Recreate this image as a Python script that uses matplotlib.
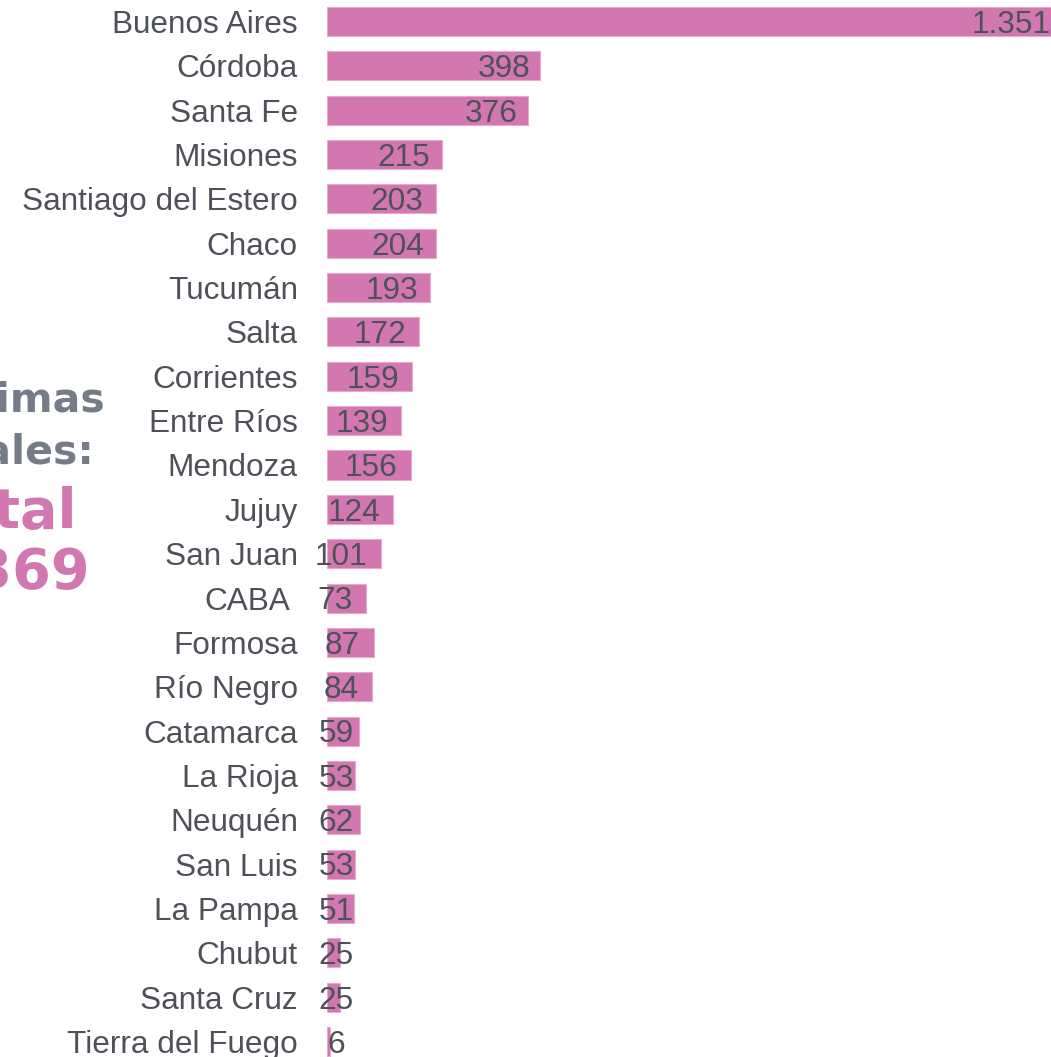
import matplotlib
matplotlib.use('Agg')
import matplotlib.pyplot as plt
from matplotlib.transforms import ScaledTranslation

# Datos (orden de arriba hacia abajo, como en la imagen)
provincias = ['Buenos Aires', 'Córdoba', 'Santa Fe', 'Misiones', 'Santiago del Estero',
              'Chaco', 'Tucumán', 'Salta', 'Corrientes', 'Entre Ríos', 'Mendoza',
              'Jujuy', 'San Juan', 'CABA', 'Formosa', 'Río Negro', 'Catamarca',
              'La Rioja', 'Neuquén', 'San Luis', 'La Pampa', 'Chubut', 'Santa Cruz',
              'Tierra del Fuego']
victimas = [1351, 398, 376, 215, 203, 204, 193, 172, 159, 139, 156, 124, 101,
            73, 87, 84, 59, 53, 62, 53, 51, 25, 25, 6]

ROSA = '#d277af'
GRIS_TXT = '#4e5159'
GRIS_TIT = '#767b88'


def fmt(v):
    return f'{v:,}'.replace(',', '.')


W, H = 1051, 1057
fig = plt.figure(figsize=(W / 100, H / 100), dpi=100)
fig.patch.set_facecolor('white')

x0 = 327
ax = fig.add_axes([x0 / W, 0, 1 - x0 / W, 1])
paso = 44.35
ymin = -21.5 / paso
ax.set_ylim(ymin + H / paso, ymin)
ax.set_xlim(0, 1351)

ys = list(range(len(provincias)))
ax.barh(ys, victimas, height=0.654, color=ROSA, edgecolor='#e6abcf', linewidth=0.8)

ax.set_yticks(ys)
ax.set_yticklabels(provincias, fontsize=22.7, family='Liberation Sans', color=GRIS_TXT)
ax.tick_params(axis='y', length=0, pad=21)
ax.set_xticks([])
for s in ax.spines.values():
    s.set_visible(False)

# CABA aparece un poco corrida a la izquierda (cuadro de animacion)
for lab in ax.get_yticklabels():
    if lab.get_text() == 'CABA':
        lab.set_transform(lab.get_transform() + ScaledTranslation(-0.08, 0, fig.dpi_scale_trans))

# etiquetas de valor: al final de la barra, o centradas cerca del eje si la barra es corta
for y, v in zip(ys, victimas):
    xt = 1.02 * v - 27
    if xt >= 46:
        ax.text(xt, y + 0.255, fmt(v), ha='right', va='baseline', fontsize=22.7,
                family='Liberation Sans', color=GRIS_TXT)
    else:
        ax.text(17, y + 0.255, fmt(v), ha='center', va='baseline', fontsize=22.7,
                family='Liberation Sans', color=GRIS_TXT)

# titulo lateral (cortado a la izquierda)
xc = 6 / W
fig.text(xc, 1 - 412 / H, 'Víctimas', ha='center', va='baseline', fontsize=29.5,
         fontweight='bold', color=GRIS_TIT, family='DejaVu Sans')
fig.text(xc, 1 - 463 / H, 'fatales:', ha='center', va='baseline', fontsize=29.5,
         fontweight='bold', color=GRIS_TIT, family='DejaVu Sans')
fig.text(2 / W, 1 - 528 / H, 'Total', ha='center', va='baseline', fontsize=40,
         fontweight='bold', color=ROSA, family='DejaVu Sans')
fig.text(2 / W, 1 - 588 / H, fmt(sum(victimas)), ha='center', va='baseline', fontsize=40,
         fontweight='bold', color=ROSA, family='DejaVu Sans')

fig.savefig('out.png', dpi=100, facecolor='white')
plt.close(fig)
